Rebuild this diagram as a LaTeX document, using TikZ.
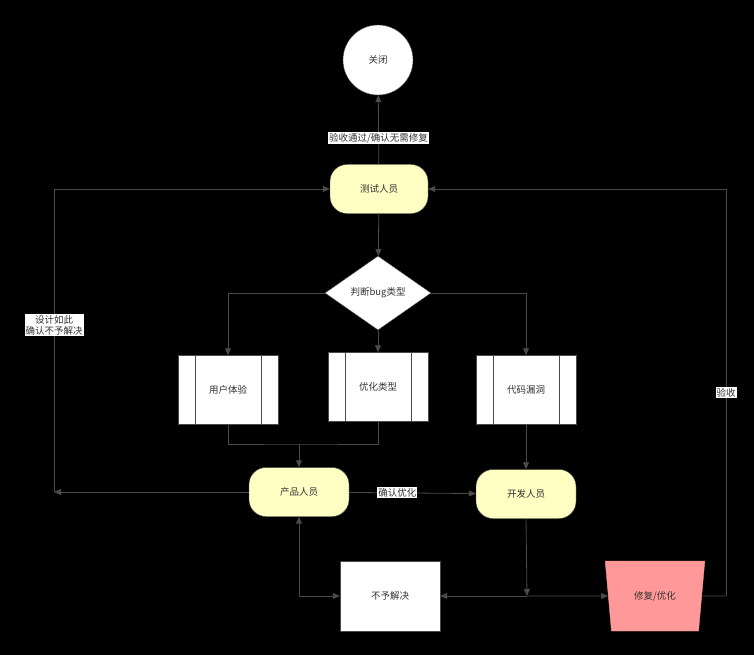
\documentclass[tikz,border=0pt]{standalone}
\usepackage{fontspec}
\setmainfont{Noto Sans CJK SC}
\usetikzlibrary{shapes.geometric,arrows.meta}
\definecolor{ln}{HTML}{4A4A4A}
\definecolor{yel}{HTML}{FFFFC4}
\definecolor{pink}{HTML}{FF9999}
\tikzset{
 every node/.style={font=\fontsize{9.5}{11}\selectfont, text=black!80},
 term/.style={draw=ln, fill=yel, rounded corners=17pt, minimum width=98pt, minimum height=49pt},
 proc/.style={draw=ln, fill=white, minimum width=100pt, minimum height=69pt},
 conn/.style={draw=ln, line width=0.8pt, -{Triangle[length=7pt,width=6pt]}},
 plain/.style={draw=ln, line width=0.8pt},
 lab/.style={fill=white, inner sep=1pt}
}
\begin{document}
\begin{tikzpicture}[x=1pt,y=-1pt]
\useasboundingbox[fill=black] (0,0) rectangle (754,655);
\node[circle, draw=ln, fill=white, minimum size=70pt] (close) at (378,60) {关闭};
\node[term] (test) at (379,189) {测试人员};
\node[diamond, draw=ln, fill=white, minimum width=106pt, minimum height=74pt, inner sep=0pt] (dec) at (378,293) {判断bug类型};
\node[proc] (ux) at (228,390) {用户体验};
\node[proc] (opt) at (378,387) {优化类型};
\node[proc] (bug) at (526,390) {代码漏洞};
\foreach \n in {ux,opt,bug}{
  \draw[ln] ([xshift=17pt]\n.north west) -- ([xshift=17pt]\n.south west);
  \draw[ln] ([xshift=-17pt]\n.north east) -- ([xshift=-17pt]\n.south east);
}
\node[term, minimum width=100pt] (pm) at (299,492) {产品人员};
\node[term, minimum width=100pt] (dev) at (526,494) {开发人员};
\node[draw=ln, fill=white, minimum width=100pt, minimum height=70pt] (no) at (390,596) {不予解决};
\node[trapezium, shape border rotate=180, trapezium stretches=true, draw=pink, fill=pink,
  minimum width=100pt, minimum height=70pt, trapezium left angle=78, trapezium right angle=78] (fix) at (655,596) {修复/优化};

\coordinate (lb) at (54,492);
\coordinate (lt) at (54,189);
\coordinate (rb) at (726,596);
\coordinate (rt) at (726,189);
\coordinate (mj) at (299,444);
\coordinate (bj) at (527,596);
\coordinate (pb) at (299,596);

\draw[conn] (test) -- (close) node[lab, pos=0.38] {验收通过/确认无需修复};
\draw[conn] (test) -- (dec);
\draw[conn] (dec.west) -| (ux.north);
\draw[conn] (dec) -- (opt);
\draw[conn] (dec.east) -| (bug.north);
\draw[plain] (ux.south) |- (mj) -| (opt.south);
\draw[conn] (mj) -- (pm);
\draw[conn] (bug) -- (dev);
\draw[conn] (pm) -- (dev) node[lab, pos=0.38] {确认优化};
\draw[conn] (pm) -- (lb);
\draw[conn] (lb) -- (lt) node[lab, align=center, pos=0.55] {设计如此\\确认不予解决} -- (test);
\draw[conn] (dev.south) -- (bj);
\draw[conn] (bj) -- (no);
\draw[conn] (bj) -- (fix);
\draw[plain] (fix) -- (rb);
\draw[conn] (rb) -- (rt) node[lab, midway] {验收} -- (test);
\draw[conn] (pb) -- (pm);
\draw[conn] (pb) -- (no);
\end{tikzpicture}
\end{document}
